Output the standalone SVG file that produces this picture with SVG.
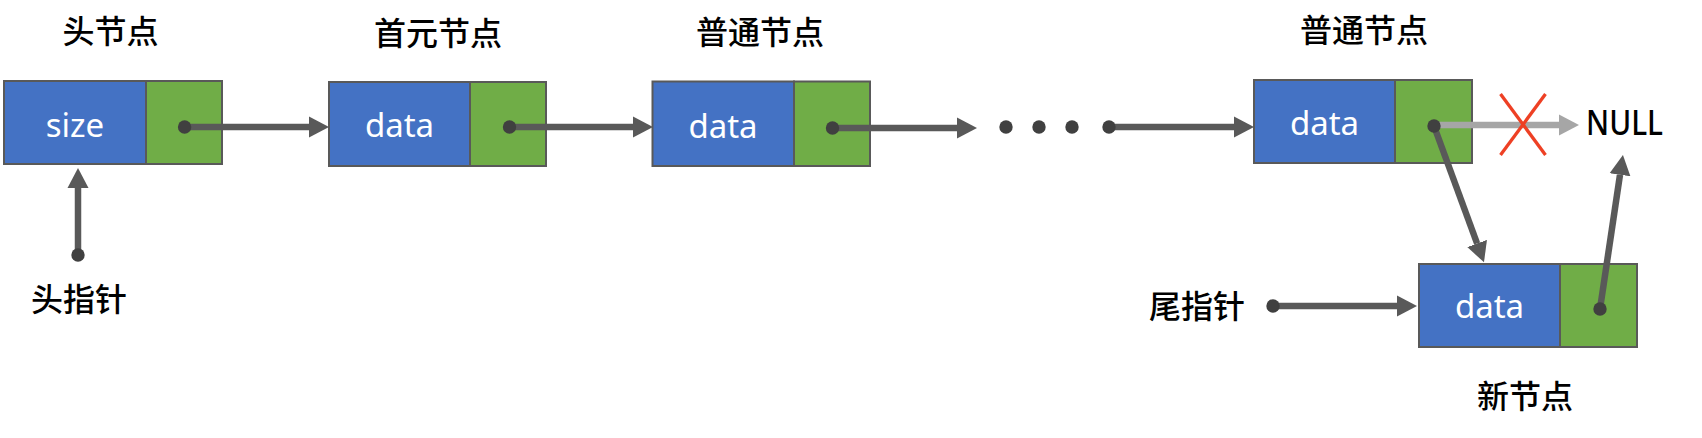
<svg xmlns="http://www.w3.org/2000/svg" width="1702" height="438" viewBox="0 0 1702 438">
<style>
.blue{fill:#4472C4;stroke:#595959;stroke-width:2}
.green{fill:#70AD47;stroke:#595959;stroke-width:2}
.dt{font-family:"Noto Sans","Open Sans",sans-serif;font-size:33px;fill:#FFFFFF;text-anchor:middle}
.lb{font-family:"Noto Sans CJK SC","Noto Sans",sans-serif;font-size:32px;font-weight:500;fill:#000000;text-anchor:middle}
.ln{stroke:#595959;stroke-width:6.5;fill:none}
.gl{stroke:#A6A6A6;stroke-width:6.5;fill:none}
.dot{fill:#404040}
</style>
<defs>
<marker id="ah" markerUnits="userSpaceOnUse" markerWidth="24" markerHeight="24" refX="0" refY="0" viewBox="0 -12 24 24" orient="auto">
<path d="M0,-10.5 L20,0 L0,10.5 z" fill="#595959"/>
</marker>
<marker id="ahg" markerUnits="userSpaceOnUse" markerWidth="24" markerHeight="24" refX="0" refY="0" viewBox="0 -12 24 24" orient="auto">
<path d="M0,-10.5 L20,0 L0,10.5 z" fill="#A6A6A6"/>
</marker>
</defs>
<rect width="1702" height="438" fill="#FFFFFF"/>

<g id="node-head">
<rect class="blue" x="4" y="81" width="142" height="83"/>
<rect class="green" x="146" y="81" width="76" height="83"/>
<text class="dt" x="75" y="136.5">size</text>
<text class="lb" x="110.5" y="43">头节点</text>
</g>
<g id="node-first">
<rect class="blue" x="329" y="82" width="141" height="84"/>
<rect class="green" x="470" y="82" width="76" height="84"/>
<text class="dt" x="399.5" y="137">data</text>
<text class="lb" x="438" y="44.5">首元节点</text>
</g>
<g id="node-normal1">
<rect class="blue" x="652.5" y="81.5" width="141.5" height="84.5"/>
<rect class="green" x="794" y="81.5" width="76" height="84.5"/>
<text class="dt" x="723" y="137.5">data</text>
<text class="lb" x="760" y="44">普通节点</text>
</g>
<g id="node-normal2">
<rect class="blue" x="1254" y="80" width="141" height="83"/>
<rect class="green" x="1395" y="80" width="77" height="83"/>
<text class="dt" x="1324.5" y="135">data</text>
<text class="lb" x="1364" y="42">普通节点</text>
</g>
<g id="node-new">
<rect class="blue" x="1419" y="264" width="141" height="83"/>
<rect class="green" x="1560" y="264" width="77" height="83"/>
<text class="dt" x="1489.5" y="318">data</text>
<text class="lb" x="1525" y="407.5">新节点</text>
</g>
<g id="label-head-pointer">
<text class="lb" x="79" y="310.5">头指针</text>
</g>
<g id="label-tail-pointer">
<text class="lb" x="1197" y="317.5">尾指针</text>
</g>
<g id="label-null">
<text x="1586" y="135" font-family="Noto Sans, Open Sans, sans-serif" font-size="35" font-weight="500" fill="#000000" textLength="77" lengthAdjust="spacingAndGlyphs">NULL</text>
</g>

<g id="connectors">
<line class="ln" x1="184.6" y1="127" x2="309" y2="127" marker-end="url(#ah)"/>
<line class="ln" x1="509.5" y1="127" x2="633" y2="127" marker-end="url(#ah)"/>
<line class="ln" x1="832.5" y1="128" x2="957" y2="128" marker-end="url(#ah)"/>
<line class="ln" x1="1109" y1="127" x2="1234" y2="127" marker-end="url(#ah)"/>
<line class="ln" x1="78" y1="255" x2="78" y2="188" marker-end="url(#ah)"/>
<line class="gl" x1="1434" y1="125" x2="1559" y2="125" marker-end="url(#ahg)"/>
<line class="ln" x1="1434" y1="126" x2="1477.1" y2="243.5" marker-end="url(#ah)"/>
<line class="ln" x1="1600" y1="309" x2="1620" y2="174.8" marker-end="url(#ah)"/>
<line class="ln" x1="1273" y1="306" x2="1397" y2="306" marker-end="url(#ah)"/>
<line x1="1500.5" y1="94" x2="1545.5" y2="155" stroke="#EE4024" stroke-width="3.3"/>
<line x1="1545.5" y1="94" x2="1500.5" y2="155" stroke="#EE4024" stroke-width="3.3"/>
<circle class="dot" cx="184.6" cy="127" r="6.7"/>
<circle class="dot" cx="509.5" cy="127" r="6.7"/>
<circle class="dot" cx="832.5" cy="128" r="6.7"/>
<circle class="dot" cx="1006" cy="127" r="6.7"/>
<circle class="dot" cx="1039" cy="127" r="6.7"/>
<circle class="dot" cx="1072" cy="127" r="6.7"/>
<circle class="dot" cx="1109" cy="127" r="6.7"/>
<circle class="dot" cx="1434" cy="126" r="6.7"/>
<circle class="dot" cx="1600" cy="309" r="6.7"/>
<circle class="dot" cx="78" cy="255" r="6.7"/>
<circle class="dot" cx="1273" cy="306" r="6.7"/>
</g>
</svg>
